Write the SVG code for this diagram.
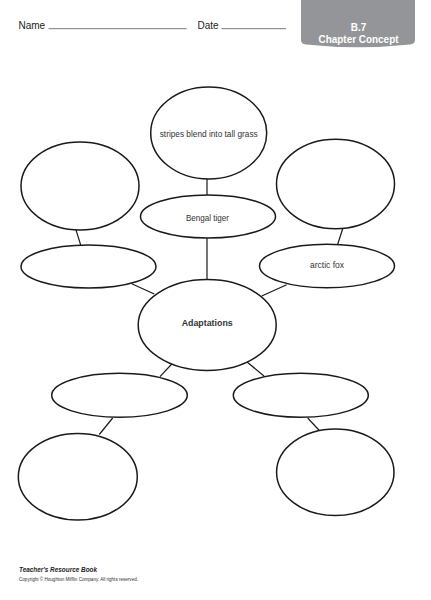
<svg xmlns="http://www.w3.org/2000/svg" width="431" height="600" viewBox="0 0 431 600">
<style>
.n{fill:#fff;stroke:#1a1a1a;stroke-width:1.5}
.c line{stroke:#1a1a1a;stroke-width:1.2}
.t{font-family:"Liberation Sans",Arial,sans-serif;font-size:9px;fill:#333;text-anchor:middle}
.h{font-family:"Liberation Sans",Arial,sans-serif;font-size:10px;fill:#222}
.rule{stroke:#555;stroke-width:0.8}
</style>
<rect width="431" height="600" fill="#fff"/>
<g id="header">
<text class="h" x="18.5" y="28.5">Name</text>
<line class="rule" x1="48.5" y1="28.7" x2="186.5" y2="28.7"/>
<text class="h" x="197.5" y="28.5">Date</text>
<line class="rule" x1="221.5" y1="28.7" x2="286" y2="28.7"/>
<path d="M301,0 H415 V40 Q415,44 410,44.5 Q358,50 306,44.5 Q301,44 301,40 Z" fill="#939598"/>
<text x="358.5" y="31" font-family="Liberation Sans,Arial,sans-serif" font-size="10" font-weight="bold" fill="#fff" text-anchor="middle">B.7</text>
<text x="358.5" y="42.5" font-family="Liberation Sans,Arial,sans-serif" font-size="10" font-weight="bold" fill="#fff" text-anchor="middle" textLength="80" lengthAdjust="spacingAndGlyphs">Chapter Concept</text>
</g>
<g class="c" id="connectors">
<line x1="207" y1="179" x2="207" y2="195"/>
<line x1="207" y1="238" x2="207" y2="279"/>
<line x1="76" y1="230" x2="80.7" y2="245"/>
<line x1="131.7" y1="283.7" x2="154.3" y2="294"/>
<line x1="342.7" y1="228.7" x2="337.7" y2="244.3"/>
<line x1="286.7" y1="284.7" x2="261.7" y2="296"/>
<line x1="172.7" y1="363" x2="160" y2="376.7"/>
<line x1="112.7" y1="418" x2="99.3" y2="434.5"/>
<line x1="246.7" y1="361.7" x2="264" y2="376"/>
<line x1="307.7" y1="418" x2="319.3" y2="430.5"/>
</g>
<g id="n_stripes">
<ellipse class="n" cx="208.7" cy="133" rx="58" ry="46"/>
<text class="t" x="208.7" y="137.3" textLength="98" lengthAdjust="spacingAndGlyphs">stripes blend into tall grass</text>
</g>
<g id="n_bengal">
<ellipse class="n" cx="208" cy="216.5" rx="67.5" ry="21.5"/>
<text class="t" x="207.5" y="220.7" textLength="43" lengthAdjust="spacingAndGlyphs">Bengal tiger</text>
</g>
<g id="n_topleft">
<ellipse class="n" cx="80" cy="186" rx="59" ry="44"/>
</g>
<g id="n_midleft">
<ellipse class="n" cx="88.5" cy="266.5" rx="67.5" ry="21.5"/>
</g>
<g id="n_topright">
<ellipse class="n" cx="335.5" cy="184" rx="59" ry="44.7"/>
</g>
<g id="n_arcticfox">
<ellipse class="n" cx="327" cy="266" rx="67.5" ry="21.7"/>
<text class="t" x="327" y="267.7" textLength="34" lengthAdjust="spacingAndGlyphs">arctic fox</text>
</g>
<g id="n_adaptations">
<ellipse class="n" cx="207.2" cy="325" rx="69" ry="45.5"/>
<text class="t" x="207.2" y="326" font-weight="bold" font-size="10" fill="#1a1a1a" textLength="51" lengthAdjust="spacingAndGlyphs">Adaptations</text>
</g>
<g id="n_botleftmid">
<ellipse class="n" cx="119.5" cy="395.3" rx="67.8" ry="22"/>
</g>
<g id="n_botleft">
<ellipse class="n" cx="77.8" cy="476.7" rx="59.5" ry="43.3"/>
</g>
<g id="n_botrightmid">
<ellipse class="n" cx="300.8" cy="395.3" rx="67.5" ry="22"/>
</g>
<g id="n_botright">
<ellipse class="n" cx="335.3" cy="472.3" rx="58.7" ry="43.3"/>
</g>
<g id="footer">
<text x="19" y="572.3" font-family="Liberation Sans,Arial,sans-serif" font-size="7.5" font-weight="bold" font-style="italic" fill="#222" textLength="78" lengthAdjust="spacingAndGlyphs">Teacher's Resource Book</text>
<text x="19" y="581" font-family="Liberation Sans,Arial,sans-serif" font-size="4.6" fill="#333" textLength="119" lengthAdjust="spacingAndGlyphs">Copyright © Houghton Mifflin Company. All rights reserved.</text>
</g>
</svg>
